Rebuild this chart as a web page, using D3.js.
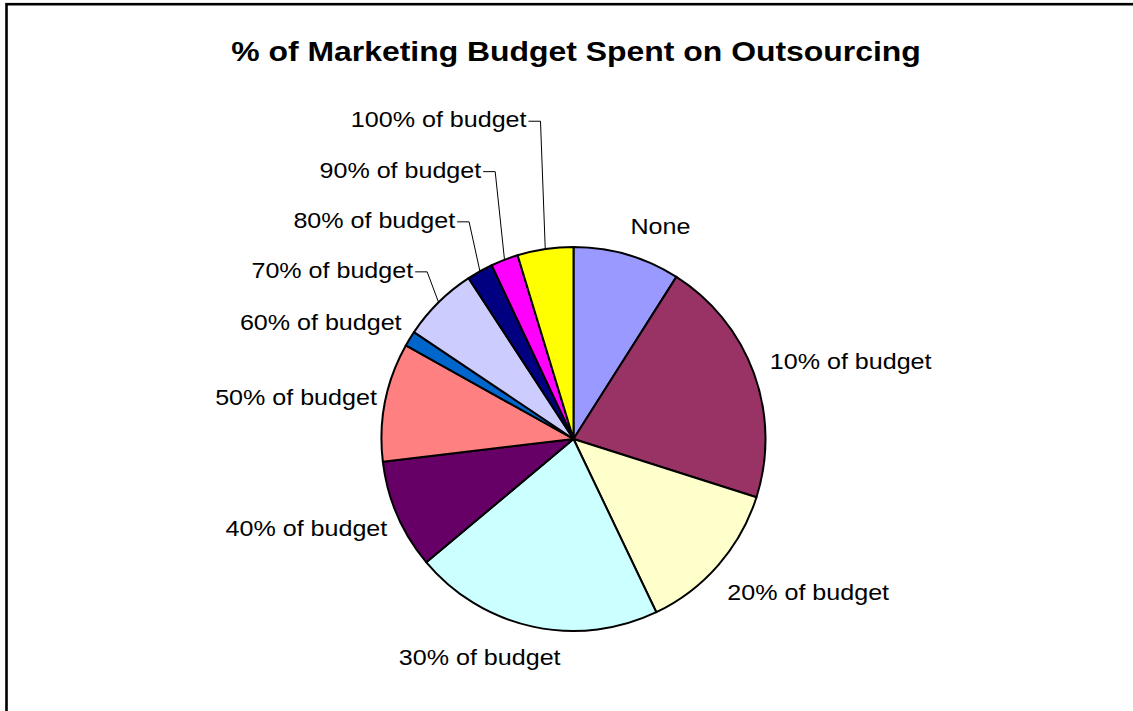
<!DOCTYPE html>
<html>
<head>
<meta charset="utf-8">
<script src="https://cdn.jsdelivr.net/npm/d3@7"></script>
<style>
  html, body { margin: 0; padding: 0; background: #fff; }
  svg { display: block; }
  text { font-family: "Liberation Sans", Arial, sans-serif; fill: #000; }
</style>
</head>
<body>
<svg id="chart" width="1133" height="711"></svg>
<script>
// Share of marketing budget spent on outsourcing (percent of respondents)
const categories = [
  "None", "10% of budget", "20% of budget", "30% of budget", "40% of budget",
  "50% of budget", "60% of budget", "70% of budget", "80% of budget",
  "90% of budget", "100% of budget"
];
const shares = [9.0, 20.9, 13.0, 21.0, 9.2, 10.0, 1.3, 6.4, 2.2, 2.3, 4.7];
const sliceColors = [
  "#9999FF", "#993366", "#FFFFCC", "#CCFFFF", "#660066",
  "#FF8080", "#0066CC", "#CCCCFF", "#000080", "#FF00FF", "#FFFF00"
];
const chartTitle = "% of Marketing Budget Spent on Outsourcing";

// Layout
const W = 1133, H = 711;
const cx = 573.5, cy = 439, R = 192;
const labelGap = 12;
const stretch = 1.14;          // horizontal text stretch
// label nudges relative to the arc anchor point [dx, dy]; leader = drawn with a connector
const labelNudge = [
  [0, -9], [4.6, 0], [0, 27.5], [30.3, 26.7], [1, 15.6],
  [3.5, 5], [2, -2.7], [-17, -16], [-19, -33], [-19, -71], [-17, -110]
];
const hasLeader = [false, false, false, false, false, false, false, true, true, true, true];

const svg = d3.select("#chart");

// outer frame
svg.append("rect")
  .attr("x", 6.5).attr("y", 4.2)
  .attr("width", W + 20).attr("height", H + 20)
  .attr("fill", "none").attr("stroke", "#000").attr("stroke-width", 2.6);

// title
svg.append("text")
  .attr("text-anchor", "middle")
  .attr("transform", `translate(576,61) scale(${stretch},1)`)
  .style("font-weight", "bold")
  .style("font-size", "28px")
  .text(chartTitle);

const pie = d3.pie().sort(null).value(d => d)
  .startAngle(0).endAngle(2 * Math.PI);
const arcs = pie(shares);
const arc = d3.arc().innerRadius(0).outerRadius(R);

const g = svg.append("g").attr("transform", `translate(${cx},${cy})`);

g.selectAll("path.slice")
  .data(arcs)
  .join("path")
  .attr("class", "slice")
  .attr("d", arc)
  .attr("fill", (d, i) => sliceColors[i])
  .attr("stroke", "#000")
  .attr("stroke-width", 2)
  .attr("stroke-linejoin", "round");

// labels
const pointAt = (a, r) => [r * Math.sin(a), -r * Math.cos(a)];

arcs.forEach((d, i) => {
  const mid = (d.startAngle + d.endAngle) / 2;
  const [ax, ay] = pointAt(mid, R + labelGap);
  const lx = ax + labelNudge[i][0];
  const ly = ay + labelNudge[i][1];
  const rightSide = Math.sin(mid) > 0;
  g.append("text")
    .attr("text-anchor", rightSide ? "start" : "end")
    .attr("transform", `translate(${lx},${ly}) scale(${stretch},1)`)
    .style("font-size", "22px")
    .text(categories[i]);

  if (hasLeader[i]) {
    const [px, py] = pointAt(mid, R);
    const yLine = ly - 6;
    const path = d3.path();
    path.moveTo(lx + 2, yLine);
    path.lineTo(lx + 14, yLine);
    path.lineTo(px, py);
    g.append("path")
      .attr("d", path.toString())
      .attr("fill", "none")
      .attr("stroke", "#000")
      .attr("stroke-width", 1);
  }
});
</script>
</body>
</html>
